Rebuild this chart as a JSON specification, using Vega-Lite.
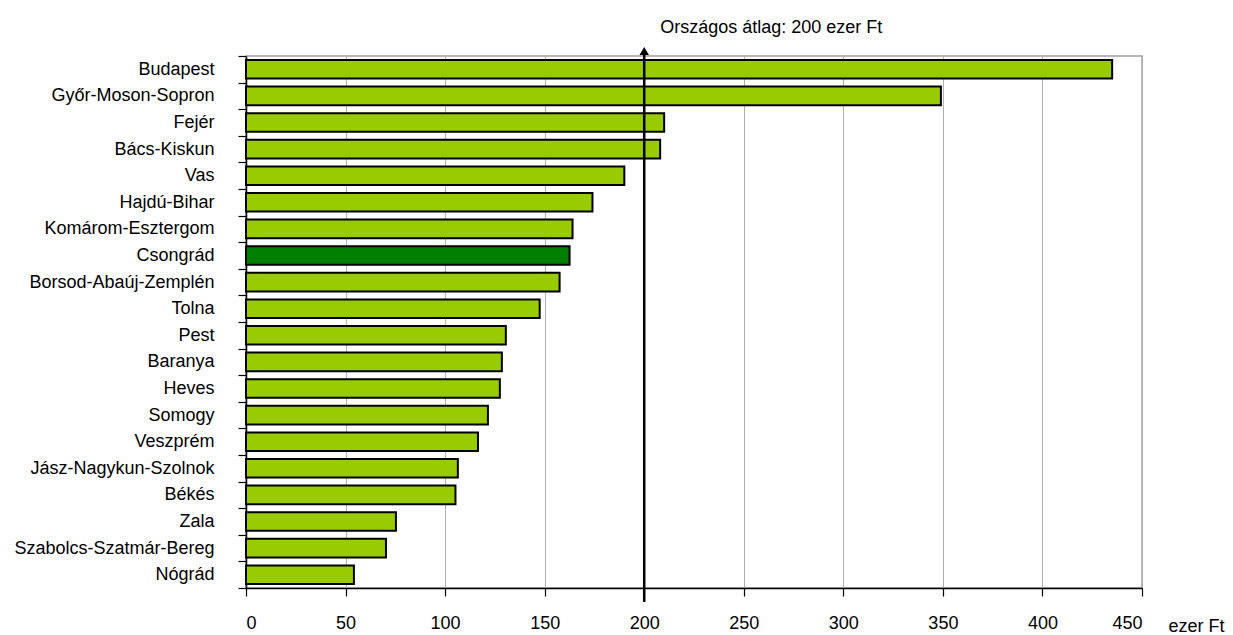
{
  "$schema": "https://vega.github.io/schema/vega-lite/v6.json",
  "autosize": {"type": "none"},
  "padding": {"left": 246, "top": 56, "right": 91, "bottom": 47},
  "width": 896,
  "height": 532,
  "background": "white",
  "config": {
    "font": "Liberation Sans",
    "view": {"stroke": "#a0a0a0", "strokeWidth": 1.5},
    "axis": {"labelColor": "black", "labelFont": "Liberation Sans", "titleFont": "Liberation Sans"}
  },
  "layer": [
    {
      "data": {
        "values": [
          {"megye": "Budapest", "ertek": 435},
          {"megye": "Győr-Moson-Sopron", "ertek": 349},
          {"megye": "Fejér", "ertek": 210},
          {"megye": "Bács-Kiskun", "ertek": 208},
          {"megye": "Vas", "ertek": 190},
          {"megye": "Hajdú-Bihar", "ertek": 174},
          {"megye": "Komárom-Esztergom", "ertek": 164},
          {"megye": "Csongrád", "ertek": 162.5},
          {"megye": "Borsod-Abaúj-Zemplén", "ertek": 157.5},
          {"megye": "Tolna", "ertek": 147.5},
          {"megye": "Pest", "ertek": 130.5},
          {"megye": "Baranya", "ertek": 128.5},
          {"megye": "Heves", "ertek": 127.5},
          {"megye": "Somogy", "ertek": 121.5},
          {"megye": "Veszprém", "ertek": 116.5},
          {"megye": "Jász-Nagykun-Szolnok", "ertek": 106.4},
          {"megye": "Békés", "ertek": 105.2},
          {"megye": "Zala", "ertek": 75.3},
          {"megye": "Szabolcs-Szatmár-Bereg", "ertek": 70.3},
          {"megye": "Nógrád", "ertek": 54.2}
        ]
      },
      "mark": {"type": "bar", "stroke": "black", "strokeWidth": 2, "cornerRadius": 0, "height": {"band": 0.7}},
      "encoding": {
        "y": {
          "field": "megye", "type": "nominal", "sort": null,
          "scale": {"paddingInner": 0, "paddingOuter": 0},
          "axis": {
            "title": null, "labelFontSize": 18, "labelPadding": 24, "labelLimit": 400, "tickSize": 8,
            "tickBand": "extent", "tickColor": "black", "domainColor": "black",
            "domainWidth": 1.5, "tickWidth": 1.2, "grid": false
          }
        },
        "x": {
          "field": "ertek", "type": "quantitative",
          "scale": {"domain": [0, 450], "nice": false},
          "axis": {
            "values": [0, 50, 100, 150, 200, 250, 300, 350, 400, 450],
            "labelFontSize": 18, "labelPadding": 18, "tickSize": 8, "tickColor": "black",
            "tickWidth": 1.2, "domainColor": "black", "domainWidth": 1.5,
            "grid": true, "gridColor": "#b0b0b0", "gridWidth": 1,
            "title": "ezer Ft", "titleFontSize": 18, "titleFontWeight": "normal",
            "titleAlign": "left", "titleBaseline": "alphabetic", "titleAnchor": null,
            "titleX": 922, "titleY": 43
          }
        },
        "color": {
          "condition": {"test": "datum.megye === 'Csongrád'", "value": "#008000"},
          "value": "#99CC00"
        }
      }
    },
    {
      "data": {"values": [{"atlag": 200, "felirat": "Országos átlag: 200 ezer Ft"}]},
      "mark": {"type": "rule", "color": "black", "strokeWidth": 2.5},
      "encoding": {
        "x": {"field": "atlag", "type": "quantitative"},
        "y": {"value": -2},
        "y2": {"value": 546}
      }
    },
    {
      "data": {"values": [{"atlag": 200, "felirat": "Országos átlag: 200 ezer Ft"}]},
      "mark": {"type": "point", "shape": "triangle-up", "filled": true, "color": "black", "size": 90, "opacity": 1},
      "encoding": {
        "x": {"field": "atlag", "type": "quantitative"},
        "y": {"value": -5}
      }
    },
    {
      "data": {"values": [{"atlag": 200, "felirat": "Országos átlag: 200 ezer Ft"}]},
      "mark": {"type": "text", "align": "left", "baseline": "alphabetic", "dx": 16, "fontSize": 18, "color": "black"},
      "encoding": {
        "x": {"field": "atlag", "type": "quantitative"},
        "y": {"value": -23},
        "text": {"field": "felirat"}
      }
    }
  ]
}
